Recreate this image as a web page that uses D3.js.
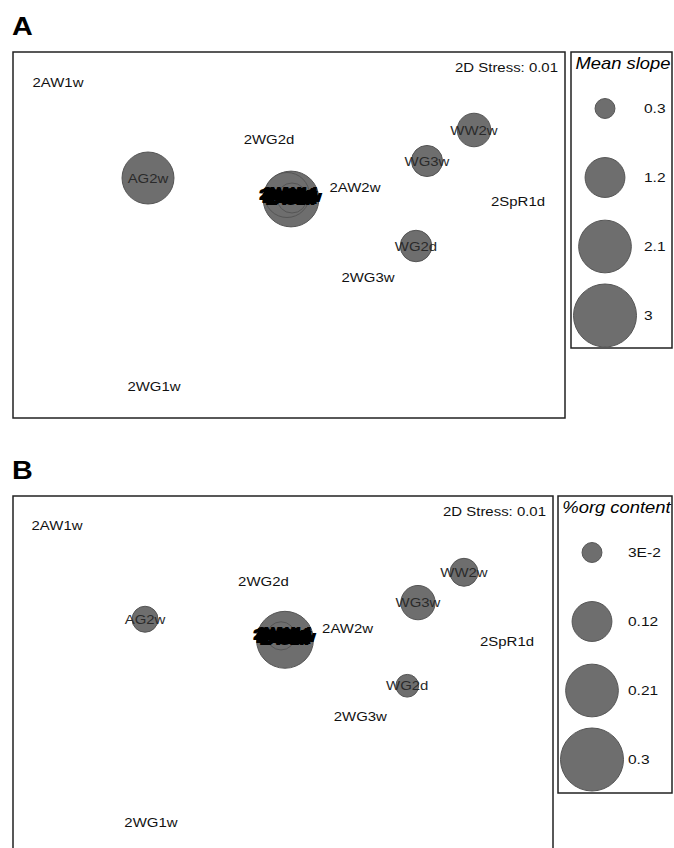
<!DOCTYPE html>
<html>
<head>
<meta charset="utf-8">
<script src="https://cdn.jsdelivr.net/npm/d3@7"></script>
<style>
body { margin: 0; background: #fff; }
text { font-family: "Liberation Sans", Arial, sans-serif; }
</style>
</head>
<body>
<svg id="chart" width="674" height="848"></svg>
<script>
// MDS ordination, same configuration in both panels
var sampleNames = ["2AW1w", "2WG2d", "AG2w", "2AW2w", "WW2w", "WG3w", "2SpR1d", "WG2d", "2WG3w", "2WG1w",
                   "2AG1w", "2AG1d", "2AW1d", "2WG1d", "2WW1w", "2SpR1w", "2AG2d", "2WW1d"];
var mds1 = [-2.31, -0.20, -1.41, 0.66, 1.85, 1.38, 2.29, 1.27, 0.79, -1.35,
            0.02, -0.02, 0.03, 0.00, 0.04, -0.01, -0.03, 0.01];
var mds2 = [1.53, 0.96, 0.57, 0.48, 1.05, 0.74, 0.34, -0.11, -0.42, -1.51,
            0.36, 0.40, 0.37, 0.42, 0.39, 0.41, 0.38, 0.43];
var meanSlope = [0, 0, 2.04, 0, 0.85, 0.73, 0, 0.75, 0, 0,
                 2.35, 1.53, 0.68, 0, 0, 0, 0, 0];
var orgContent = [0, 0, 0.051, 0, 0.059, 0.089, 0, 0.039, 0, 0,
                  0.245, 0.06, 0, 0, 0, 0, 0, 0];

var slopeLegend = [0.3, 1.2, 2.1, 3];
var slopeLegendLabels = ["0.3", "1.2", "2.1", "3"];
var orgLegend = [0.03, 0.12, 0.21, 0.3];
var orgLegendLabels = ["3E-2", "0.12", "0.21", "0.3"];
var stressLabel = "2D Stress: 0.01";

var svg = d3.select("#chart");
var stretch = 1.15;   // text in the figure is a bit wide

function putText(g, x, y, str) {
	return g.append("text")
		.attr("transform", "translate(" + x + "," + y + ") scale(" + stretch + ",1)")
		.text(str);
}

function drawPanel(p) {
	var g = svg.append("g");

	var xScale = d3.scaleLinear().domain([-2.76, 2.76]).range([p.box[0], p.box[2]]);
	var yScale = d3.scaleLinear().domain([-1.83, 1.83]).range([p.box[1] + p.boxH, p.box[1]]);
	var rScale = d3.scaleSqrt().domain([0, p.vmax]).range([0, 31.5]);

	putText(g, p.box[0] - 1, p.box[1] - 17, p.letter)
		.style("font-size", "25px").style("font-weight", "bold").attr("fill", "#000");

	g.append("rect")
		.attr("x", p.box[0]).attr("y", p.box[1])
		.attr("width", p.box[2] - p.box[0]).attr("height", p.boxH)
		.attr("fill", "none").attr("stroke", "#222").attr("stroke-width", 1.5);

	putText(g, p.box[2] - 7, p.box[1] + 20, stressLabel)
		.attr("text-anchor", "end").style("font-size", "13px").attr("fill", "#111");

	var data = sampleNames.map(function(n, i) {
		return { name: n, x: mds1[i], y: mds2[i], v: p.values[i], cluster: i >= 10 };
	});

	var bub = data.filter(function(d) { return d.v > 0; })
		.sort(function(a, b) { return b.v - a.v; });

	g.selectAll(".bub").data(bub).enter().append("circle")
		.attr("class", "bub")
		.attr("cx", function(d) { return xScale(d.x); })
		.attr("cy", function(d) { return yScale(d.y); })
		.attr("r", function(d) { return rScale(d.v); })
		.attr("fill", "#6e6e6e")
		.attr("stroke", "#555")
		.attr("stroke-width", 1);

	// labels; the stacked ones in the middle print on top of each other
	data.forEach(function(d) {
		putText(g, xScale(d.x), yScale(d.y), d.name)
			.attr("dy", "0.35em")
			.attr("text-anchor", "middle")
			.style("font-size", "13px")
			.attr("fill", d.cluster ? "#000" : (d.v > 0 ? "#2a2a2a" : "#111"))
			.attr("stroke", d.cluster ? "#000" : "none")
			.attr("stroke-width", d.cluster ? 2 : 0);
	});

	// legend
	var L = p.legend;
	g.append("rect")
		.attr("x", L[0]).attr("y", L[1])
		.attr("width", L[2] - L[0]).attr("height", L[3] - L[1])
		.attr("fill", "none").attr("stroke", "#222").attr("stroke-width", 1.5);

	putText(g, (L[0] + L[2]) / 2 + 1.5, L[1] + 16.5, p.title)
		.attr("text-anchor", "middle").style("font-size", "16px").style("font-style", "italic").attr("fill", "#000");

	var ly = d3.scalePoint().domain(p.legVals).range([L[1] + 56.5, L[1] + 56.5 + 69 * 3]);

	g.selectAll(".legc").data(p.legVals).enter().append("circle")
		.attr("class", "legc")
		.attr("cx", L[0] + 34)
		.attr("cy", function(d) { return ly(d); })
		.attr("r", function(d) { return rScale(d); })
		.attr("fill", "#6e6e6e")
		.attr("stroke", "#555")
		.attr("stroke-width", 1);

	p.legVals.forEach(function(v, i) {
		putText(g, L[0] + p.labOff, ly(v), p.legLabels[i])
			.attr("dy", "0.35em").style("font-size", "13.5px").attr("fill", "#111");
	});
}

drawPanel({
	letter: "A",
	box: [13, 52, 565], boxH: 366,
	legend: [571, 52, 672, 348],
	values: meanSlope, vmax: 3,
	title: "Mean slope",
	legVals: slopeLegend, legLabels: slopeLegendLabels,
	labOff: 73
});

drawPanel({
	letter: "B",
	box: [13, 496, 553], boxH: 358,
	legend: [558, 496, 672, 793],
	values: orgContent, vmax: 0.3,
	title: "%org content",
	legVals: orgLegend, legLabels: orgLegendLabels,
	labOff: 70
});
</script>
</body>
</html>
